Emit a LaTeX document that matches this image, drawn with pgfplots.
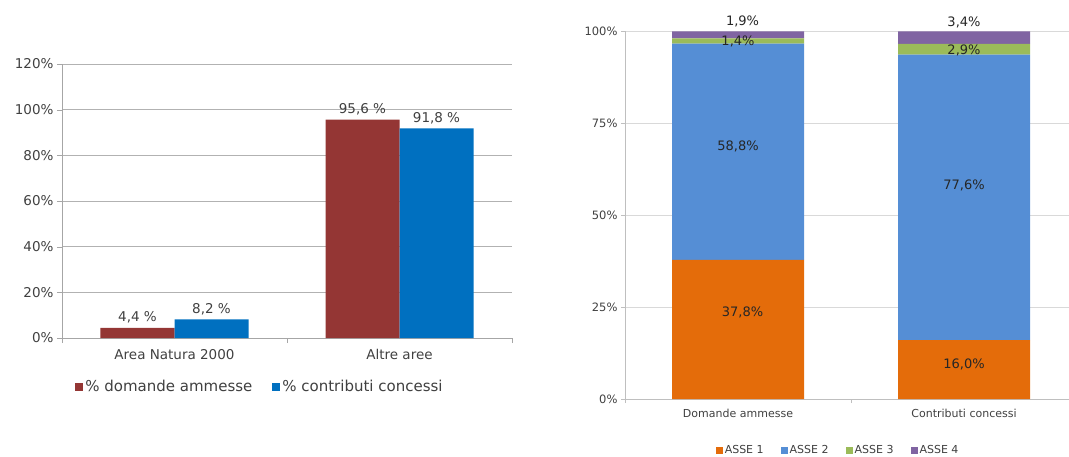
\documentclass[border=0pt]{standalone}
\usepackage{fontspec}
\setmainfont{DejaVu Sans}
\usepackage{pgfplots}
\pgfplotsset{compat=1.18}
\definecolor{cred}{HTML}{943634}
\definecolor{cblue}{HTML}{0070C0}
\definecolor{aone}{HTML}{E46C0A}
\definecolor{atwo}{HTML}{558ED5}
\definecolor{athree}{HTML}{9BBB59}
\definecolor{afour}{HTML}{8064A2}
\definecolor{txt}{HTML}{404040}
\pgfplotsset{/pgf/number format/assume math mode=true}
\tikzset{lab/.style={font=\fontsize{13}{15}\selectfont, text=black!85}}
\begin{document}
\begin{tikzpicture}[x=1pt,y=1pt]
\useasboundingbox (0,0) rectangle (1069,456);
% ---------------- left chart
\begin{axis}[
  at={(62pt,118pt)}, anchor=south west,
  scale only axis, width=450pt, height=274pt,
  xmin=-0.5, xmax=1.5, ymin=0, ymax=120,
  ybar=0pt, bar width=74pt,
  axis x line*=bottom, axis y line*=left,
  axis line style={gray!70},
  xtick={0,1}, xticklabels={Area Natura 2000, Altre aree},
  xticklabel style={yshift=-3pt},
  major x tick style={draw=none},
  extra x ticks={-0.5,0.5,1.5}, extra x tick labels={},
  extra x tick style={grid=none, major tick length=5pt, tick align=outside, major x tick style={draw=gray!70}},
  ytick={0,20,...,120},
  yticklabel={\pgfmathprintnumber{\tick}\%},
  major y tick style={draw=gray!70}, tick align=outside, major tick length=5pt,
  ymajorgrids, grid style={gray!60},
  tick label style={font=\fontsize{13.5}{15}\selectfont, text=txt},
  nodes near coords={\pgfmathprintnumber[fixed,precision=1,fixed zerofill,use comma]{\pgfplotspointmeta}~\%},
  nodes near coords style={font=\fontsize{13.5}{15}\selectfont, text=txt, yshift=1pt},
  legend style={at={(0.44,-0.179)}, anchor=center, draw=none, legend columns=2,
    font=\fontsize{15}{17}\selectfont, text=txt,
    /tikz/every even column/.append style={column sep=18pt}},
  legend image code/.code={\fill[#1] (0pt,-4pt) rectangle (8pt,4pt);},
]
\addplot[fill=cred, draw=none] coordinates {(0,4.4) (1,95.6)};
\addplot[fill=cblue, draw=none] coordinates {(0,8.2) (1,91.8)};
\legend{\% domande ammesse, \% contributi concessi}
\end{axis}
% ---------------- right chart
\begin{axis}[
  at={(625pt,57pt)}, anchor=south west,
  scale only axis, width=444pt, height=368pt,
  xmin=-0.5, xmax=1.4646, ymin=0, ymax=100,
  ybar stacked, bar width=132pt,
  axis x line*=bottom, axis y line*=left,
  axis line style={gray!50},
  xtick={0,1}, xticklabels={Domande ammesse, Contributi concessi},
  xticklabel style={yshift=-3pt},
  major x tick style={draw=none},
  extra x ticks={-0.5,0.5}, extra x tick labels={},
  extra x tick style={grid=none, major tick length=4pt, tick align=outside, major x tick style={draw=gray!50}},
  ytick={0,25,...,100},
  yticklabel={\pgfmathprintnumber{\tick}\%},
  major y tick style={draw=gray!50}, tick align=outside, major tick length=4pt,
  ymajorgrids, grid style={gray!30},
  tick label style={font=\fontsize{11}{13}\selectfont, text=txt},
  yticklabel style={font=\fontsize{11.5}{13}\selectfont},
  legend style={at={(0.48,-0.139)}, anchor=center, draw=none, legend columns=4,
    font=\fontsize{11}{13}\selectfont, text=txt,
    /tikz/every even column/.append style={column sep=15pt}},
  legend image code/.code={\fill[#1] (0pt,-3.5pt) rectangle (7pt,3.5pt);},
]
\addplot[fill=aone, draw=none] coordinates {(0,37.8) (1,16.0)};
\addplot[fill=atwo, draw=none] coordinates {(0,58.8) (1,77.6)};
\addplot[fill=athree, draw=none] coordinates {(0,1.4) (1,2.9)};
\addplot[fill=afour, draw=none] coordinates {(0,1.9) (1,3.4)};
\legend{ASSE 1, ASSE 2, ASSE 3, ASSE 4}
\coordinate (la) at (axis cs:0.02,102.7);
\coordinate (lb) at (axis cs:0,97.3);
\coordinate (lc) at (axis cs:0,68.5);
\coordinate (ld) at (axis cs:0.02,23.4);
\coordinate (le) at (axis cs:1,102.4);
\coordinate (lf) at (axis cs:1,94.8);
\coordinate (lg) at (axis cs:1,57.9);
\coordinate (lh) at (axis cs:1,9.5);
\end{axis}
\node[lab] at (la) {1,9\%};
\node[lab] at (lb) {1,4\%};
\node[lab] at (lc) {58,8\%};
\node[lab] at (ld) {37,8\%};
\node[lab] at (le) {3,4\%};
\node[lab] at (lf) {2,9\%};
\node[lab] at (lg) {77,6\%};
\node[lab] at (lh) {16,0\%};
\end{tikzpicture}
\end{document}
